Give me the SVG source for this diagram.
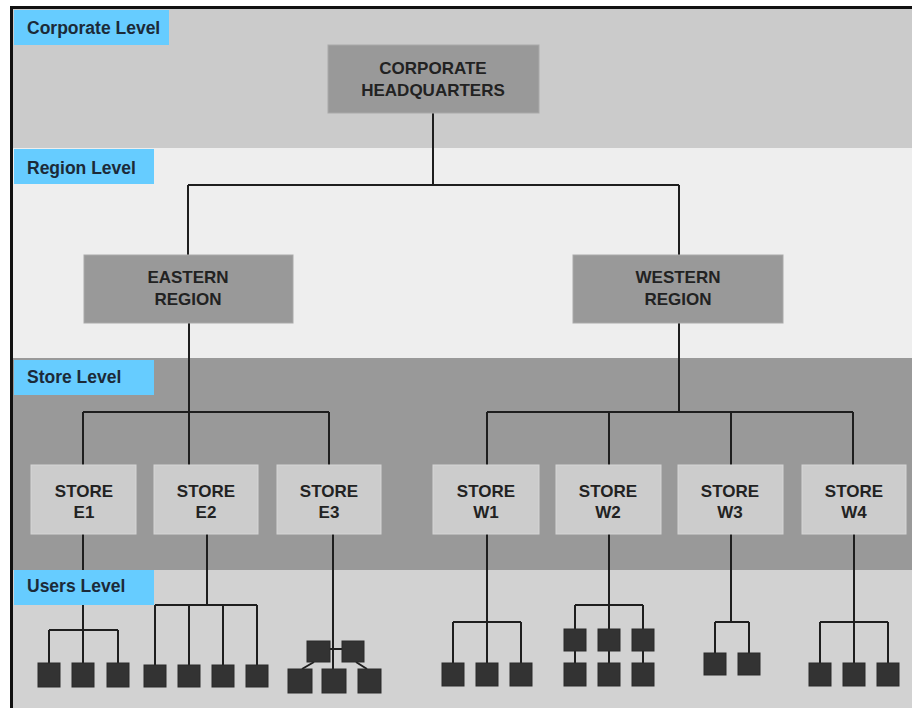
<svg xmlns="http://www.w3.org/2000/svg" width="912" height="708" viewBox="0 0 912 708">
<style>
.band-label{fill:#66ccff}
.lt{font-family:"Liberation Sans",Arial,sans-serif;font-weight:bold;font-size:17.5px;fill:#1c2a38}
.nt{font-family:"Liberation Sans",Arial,sans-serif;font-weight:bold;font-size:17px;fill:#222;text-anchor:middle}
.dark{fill:#999999;stroke:#a9a9a9;stroke-width:1}
.store{fill:#cccccc;stroke:#d6d6d6;stroke-width:1}
.u{fill:#333333;stroke:#2a2a2a;stroke-width:1}
.c{fill:none;stroke:#1e1e1e;stroke-width:2}
</style>
<rect x="0" y="0" width="912" height="708" fill="#ffffff"/>
<g id="bands">
<rect x="12" y="8" width="900" height="140" fill="#cbcbcb"/>
<rect x="12" y="148" width="900" height="210" fill="#eeeeee"/>
<rect x="12" y="358" width="900" height="212" fill="#999999"/>
<rect x="12" y="570" width="900" height="138" fill="#d2d2d2"/>
<path d="M11.5 720 V7.5 H920" fill="none" stroke="#111" stroke-width="3"/>
</g>

<g id="connectors" class="c">
<path d="M433 113 V185 M188 185 H679 M188 185 V255 M679 185 V255"/>
<path d="M189 323 V465 M679 323 V412"/>
<path d="M83 412 H329 M83 412 V465 M329 412 V465"/>
<path d="M487 412 H853 M487 412 V465 M609 412 V465 M731 412 V465 M853 412 V465"/>
<path d="M83 534 V663 M49 630 H118 M49 630 V663 M118 630 V663"/>
<path d="M207 534 V605 M155 605 H257 M155 605 V665 M189 605 V665 M223 605 V665 M257 605 V665"/>
<path d="M333 534 V669 M330 649 H342 M314 662 L302 669 M356 662 L367 669"/>
<path d="M487 534 V663 M453 622 H521 M453 622 V663 M521 622 V663"/>
<path d="M609 534 V629 M575 605 H643 M575 605 V629 M643 605 V629 M575 651 V663 M609 651 V663 M643 651 V663"/>
<path d="M731 534 V622 M715 622 H749 M715 622 V653 M749 622 V653"/>
<path d="M854 534 V663 M820 622 H888 M820 622 V663 M888 622 V663"/>
</g>

<g id="label-corporate"><rect class="band-label" x="14" y="10" width="155" height="35"/><text class="lt" x="27" y="34">Corporate Level</text></g>
<g id="label-region"><rect class="band-label" x="14" y="149" width="140" height="35"/><text class="lt" x="27" y="174">Region Level</text></g>
<g id="label-store"><rect class="band-label" x="14" y="360" width="140" height="35"/><text class="lt" x="27" y="383">Store Level</text></g>
<g id="label-users"><rect class="band-label" x="14" y="570" width="140" height="35"/><text class="lt" x="27" y="592">Users Level</text></g>

<g id="hq"><rect class="dark" x="328" y="45" width="211" height="68"/><text class="nt" x="433" y="74">CORPORATE</text><text class="nt" x="433" y="96">HEADQUARTERS</text></g>
<g id="eastern"><rect class="dark" x="84" y="255" width="209" height="68"/><text class="nt" x="188" y="283">EASTERN</text><text class="nt" x="188" y="305">REGION</text></g>
<g id="western"><rect class="dark" x="573" y="255" width="210" height="68"/><text class="nt" x="678" y="283">WESTERN</text><text class="nt" x="678" y="305">REGION</text></g>

<g id="store-e1"><rect class="store" x="31" y="465" width="105" height="69"/><text class="nt" x="84" y="497">STORE</text><text class="nt" x="84" y="518">E1</text></g>
<g id="store-e2"><rect class="store" x="154" y="465" width="104" height="69"/><text class="nt" x="206" y="497">STORE</text><text class="nt" x="206" y="518">E2</text></g>
<g id="store-e3"><rect class="store" x="277" y="465" width="104" height="69"/><text class="nt" x="329" y="497">STORE</text><text class="nt" x="329" y="518">E3</text></g>
<g id="store-w1"><rect class="store" x="433" y="465" width="106" height="69"/><text class="nt" x="486" y="497">STORE</text><text class="nt" x="486" y="518">W1</text></g>
<g id="store-w2"><rect class="store" x="556" y="465" width="105" height="69"/><text class="nt" x="608" y="497">STORE</text><text class="nt" x="608" y="518">W2</text></g>
<g id="store-w3"><rect class="store" x="678" y="465" width="105" height="69"/><text class="nt" x="730" y="497">STORE</text><text class="nt" x="730" y="518">W3</text></g>
<g id="store-w4"><rect class="store" x="802" y="465" width="104" height="69"/><text class="nt" x="854" y="497">STORE</text><text class="nt" x="854" y="518">W4</text></g>

<g id="users-e1"><rect class="u" x="38" y="663" width="22" height="24"/><rect class="u" x="72" y="663" width="22" height="24"/><rect class="u" x="107" y="663" width="22" height="24"/></g>
<g id="users-e2"><rect class="u" x="144" y="665" width="22" height="22"/><rect class="u" x="178" y="665" width="22" height="22"/><rect class="u" x="212" y="665" width="22" height="22"/><rect class="u" x="246" y="665" width="22" height="22"/></g>
<g id="users-e3"><rect class="u" x="307" y="641" width="23" height="21"/><rect class="u" x="342" y="641" width="22" height="21"/><rect class="u" x="288" y="669" width="24" height="24"/><rect class="u" x="322" y="669" width="24" height="24"/><rect class="u" x="358" y="669" width="23" height="24"/></g>
<g id="users-w1"><rect class="u" x="442" y="663" width="22" height="23"/><rect class="u" x="476" y="663" width="22" height="23"/><rect class="u" x="510" y="663" width="22" height="23"/></g>
<g id="users-w2"><rect class="u" x="564" y="629" width="22" height="22"/><rect class="u" x="598" y="629" width="22" height="22"/><rect class="u" x="632" y="629" width="22" height="22"/><rect class="u" x="564" y="663" width="22" height="23"/><rect class="u" x="598" y="663" width="22" height="23"/><rect class="u" x="632" y="663" width="22" height="23"/></g>
<g id="users-w3"><rect class="u" x="704" y="653" width="22" height="22"/><rect class="u" x="738" y="653" width="22" height="22"/></g>
<g id="users-w4"><rect class="u" x="809" y="663" width="22" height="23"/><rect class="u" x="843" y="663" width="22" height="23"/><rect class="u" x="877" y="663" width="22" height="23"/></g>
</svg>
